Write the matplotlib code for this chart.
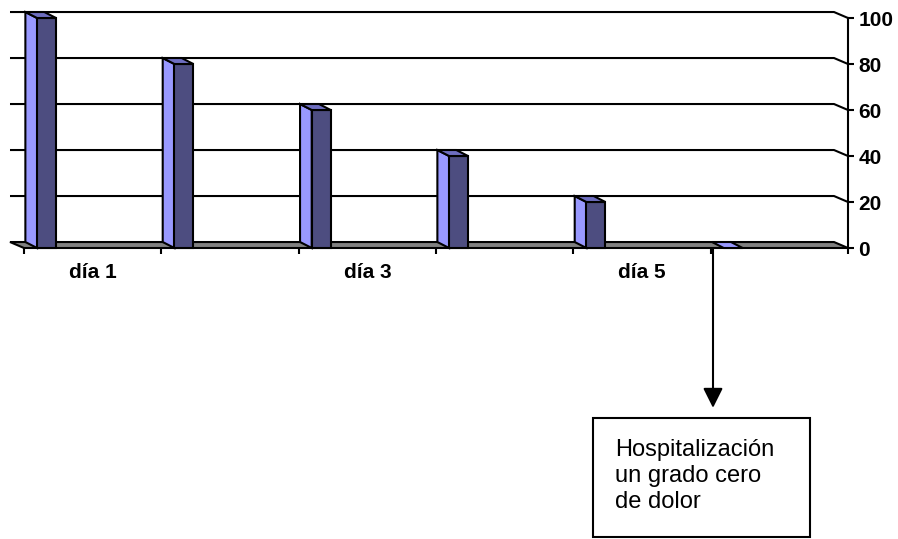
import numpy as np
import matplotlib
matplotlib.use('Agg')
import matplotlib.pyplot as plt
from matplotlib.patches import Polygon, Rectangle

plt.rcParams['font.family'] = ['Liberation Sans', 'DejaVu Sans']

# data
days = ['día 1', 'día 2', 'día 3', 'día 4', 'día 5', 'día 6']
shown = ['día 1', '', 'día 3', '', 'día 5', '']
dolor = [100, 80, 60, 40, 20, 0]
yticks = [0, 20, 40, 60, 80, 100]
nota = 'Hospitalización\nun grado cero\nde dolor'

side_c = '#9999FF'
front_c = '#4D4D80'
top_c = '#6E6EC0'
floor_c = '#808080'
lw = 1.5

fig = plt.figure(figsize=(8.98, 5.39), dpi=100)
ax = fig.add_axes([24/898, 1 - 248/539, 824/898, 230/539])
n = len(days)
ax.set_xlim(0, n)
ax.set_ylim(0, 100)

# depth of the 3d look, in data units
dx = -0.102
dy = 2.6
bdx = -0.085  # columns are a bit shallower than the wall

# back wall gridlines, bending to the front axis
for v in yticks[1:]:
    ax.plot([dx, n + dx, n], [v + dy, v + dy, v], color='black', lw=lw,
            clip_on=False, zorder=1, solid_capstyle='butt')

# floor
floor = Polygon([(0, 0), (n, 0), (n + dx, dy), (dx, dy)], closed=True,
                facecolor=floor_c, edgecolor='black', lw=lw, clip_on=False, zorder=2)
ax.add_patch(floor)

# columns
for i, v in enumerate(dolor):
    x0 = i + 0.095
    x1 = i + 0.233
    if v > 0:
        ax.add_patch(Polygon([(x0, 0), (x0, v), (x0 + bdx, v + dy), (x0 + bdx, dy)],
                             closed=True, facecolor=side_c, edgecolor='black', lw=lw,
                             clip_on=False, zorder=3))
        ax.add_patch(Rectangle((x0, 0), x1 - x0, v, facecolor=front_c,
                               edgecolor='black', lw=lw, clip_on=False, zorder=3))
    ax.add_patch(Polygon([(x0, v), (x1, v), (x1 + bdx, v + dy), (x0 + bdx, v + dy)],
                         closed=True, facecolor=top_c if v > 0 else side_c,
                         edgecolor='black', lw=lw, clip_on=False, zorder=3))

for s in ['top', 'left', 'bottom']:
    ax.spines[s].set_visible(False)
ax.spines['right'].set_linewidth(lw)
ax.spines['right'].set_zorder(4)

ax.yaxis.tick_right()
ax.set_yticks(yticks)
ax.set_yticklabels([str(t) for t in yticks], fontsize=15, fontweight='bold')
ax.tick_params(axis='y', direction='out', length=4, width=lw, pad=3.5)

ax.set_xticks(np.arange(n + 1))
ax.set_xticklabels([])
ax.set_xticks(np.arange(n) + 0.5, minor=True)
ax.set_xticklabels(shown, minor=True, fontsize=15, fontweight='bold')
ax.tick_params(axis='x', which='major', direction='out', length=4, width=lw)
ax.tick_params(axis='x', which='minor', length=0, pad=11)

# arrow and note box
xa = 5.017
ax.annotate('', xy=(xa, -69.5), xytext=(xa, 0),
            arrowprops=dict(arrowstyle='-|>,head_length=0.6,head_width=0.3',
                            mutation_scale=20, lw=lw, color='black',
                            shrinkA=0, shrinkB=0),
            annotation_clip=False)
ax.add_patch(Rectangle((4.144, -125.7), 1.581, 51.8, facecolor='white',
                       edgecolor='black', lw=lw, clip_on=False))
ax.text(4.303, -83, nota, fontsize=17, ha='left', va='top', linespacing=1.25)

fig.savefig('out.png', dpi=100)
